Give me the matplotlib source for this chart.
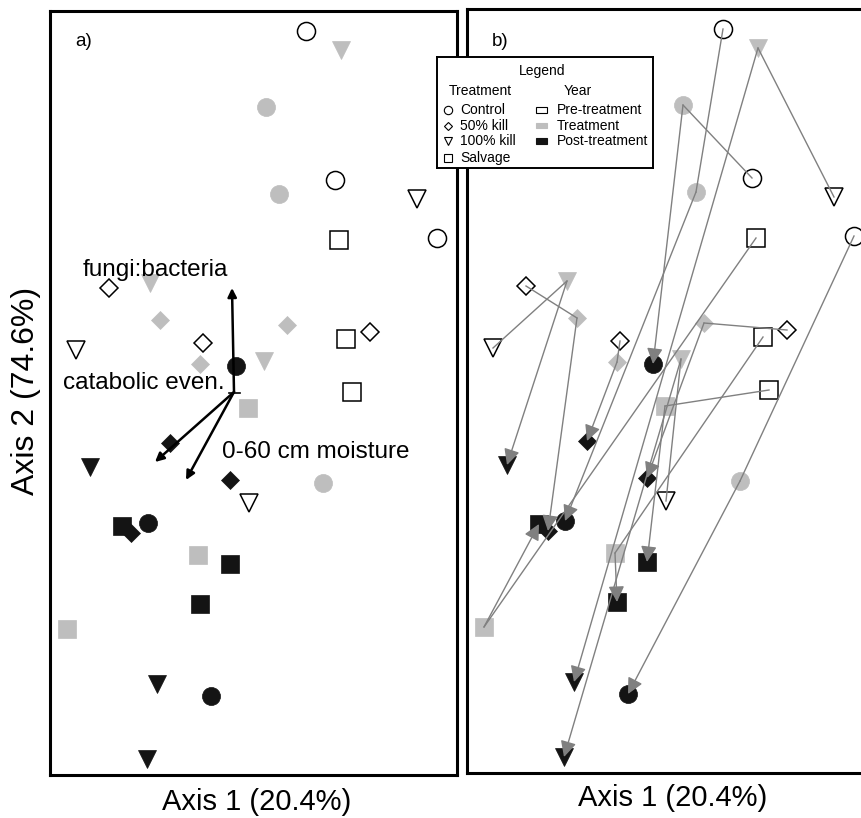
import matplotlib
matplotlib.use('Agg')
import matplotlib.pyplot as plt
from matplotlib.patches import Rectangle

plt.rcParams['font.family'] = ['Liberation Sans', 'DejaVu Sans']

# NMS scores: rows = year (pre, treatment, post), columns = plot (replicate)
control_x = [[0.28, 0.425, 0.935], [0.145, 0.08, 0.365], [-0.51, -0.07, -0.195]]
control_y = [[1.845, 1.10, 0.81], [1.03, 1.465, -0.415], [-0.615, 0.17, -1.48]]

kill50_x = [[-0.705, 0.60, -0.235], [-0.45, 0.185, -0.25], [-0.595, -0.10, -0.40]]
kill50_y = [[0.56, 0.34, 0.285], [0.40, 0.375, 0.18], [-0.665, -0.40, -0.215]]

kill100_x = [[0.835, -0.87, -0.005], [0.455, -0.50, 0.07], [-0.465, -0.80, -0.515]]
kill100_y = [[1.005, 0.25, -0.515], [1.75, 0.585, 0.195], [-1.42, -0.335, -1.795]]

salvage_x = [[0.445, 0.48, 0.51], [-0.915, -0.26, -0.01], [-0.64, -0.25, -0.10]]
salvage_y = [[0.80, 0.305, 0.04], [-1.145, -0.775, -0.04], [-0.63, -1.02, -0.82]]

treatments = ['Control', '50% kill', '100% kill', 'Salvage']
years = ['Pre-treatment', 'Treatment', 'Post-treatment']

# Environmental vectors (biplot), from a common origin
vec_origin = (-0.08, 0.04)
vec_x = [-0.09, -0.475, -0.32]
vec_y = [0.56, -0.31, -0.40]

scores = {
    'Control': (control_x, control_y),
    '50% kill': (kill50_x, kill50_y),
    '100% kill': (kill100_x, kill100_y),
    'Salvage': (salvage_x, salvage_y),
}
markers = {'Control': 'o', '50% kill': 'D', '100% kill': 'v', 'Salvage': 's'}
msizes = {'Control': 13, '50% kill': 9.5, '100% kill': 13, 'Salvage': 12.7}
year_colors = [None, '#bebebe', '#141414']
arrow_gray = '#808080'

W, H = 862, 818
fig = plt.figure(figsize=(W / 100, H / 100), dpi=100)


def px_box(left, top, right, bottom):
    return [left / W, 1 - bottom / H, (right - left) / W, (bottom - top) / H]


def draw_points(ax):
    for t in treatments:
        xs, ys = scores[t]
        for yi in range(3):
            if year_colors[yi] is None:
                ax.plot(xs[yi], ys[yi], ls='none', marker=markers[t],
                        ms=msizes[t], mfc='none', mec='k', mew=1.1, zorder=2)
            else:
                ax.plot(xs[yi], ys[yi], ls='none', marker=markers[t],
                        ms=msizes[t], mfc=year_colors[yi],
                        mec=year_colors[yi], mew=0.5, zorder=2)


def setup(ax):
    ax.set_xlim(-1.0, 1.035)
    ax.set_ylim(-1.875, 1.945)
    ax.set_xticks([])
    ax.set_yticks([])
    for s in ax.spines.values():
        s.set_linewidth(2.2)


# Panel a: ordination with biplot vectors
ax1 = fig.add_axes(px_box(50, 11, 457, 775))
setup(ax1)
draw_points(ax1)
for vx, vy in zip(vec_x, vec_y):
    ax1.annotate('', xy=(vx, vy), xytext=vec_origin,
                 arrowprops=dict(arrowstyle='-|>', color='k', lw=1.8,
                                 mutation_scale=13, shrinkA=0, shrinkB=0),
                 zorder=4)
# near zero-length vector (catabolic evenness)
ax1.plot([vec_origin[0] - 0.025, vec_origin[0] + 0.03],
         [vec_origin[1] - 0.005, vec_origin[1] - 0.005], color='k', lw=1.2, zorder=4)
ax1.text(-0.835, 0.65, 'fungi:bacteria', fontsize=17.5, va='center', zorder=5)
ax1.text(-0.935, 0.085, 'catabolic even.', fontsize=17.5, va='center', zorder=5)
ax1.text(-0.14, -0.26, '0-60 cm moisture', fontsize=17.5, va='center', zorder=5)
fig.text(75 / W, 1 - 42 / H, 'a)', fontsize=13.5, va='center')

# Panel b: trajectories pre -> treatment -> post
ax2 = fig.add_axes(px_box(467, 9, 874, 773))
setup(ax2)
draw_points(ax2)
for t in treatments:
    xs, ys = scores[t]
    for r in range(3):
        ax2.plot([xs[0][r], xs[1][r]], [ys[0][r], ys[1][r]],
                 color=arrow_gray, lw=1.0, zorder=3)
        ax2.annotate('', xy=(xs[2][r], ys[2][r]), xytext=(xs[1][r], ys[1][r]),
                     arrowprops=dict(arrowstyle='-|>', color=arrow_gray, lw=1.0,
                                     mutation_scale=24, shrinkA=0, shrinkB=0),
                     zorder=4)
fig.text(492 / W, 1 - 42 / H, 'b)', fontsize=13.5, va='center')

# Axis titles
fig.text(257 / W, 1 - 802 / H, 'Axis 1 (20.4%)', fontsize=21, ha='center', va='center')
fig.text(673 / W, 1 - 798 / H, 'Axis 1 (20.4%)', fontsize=21, ha='center', va='center')
fig.text(26 / W, 1 - 391 / H, 'Axis 2 (74.6%)', fontsize=23, ha='center',
         va='center', rotation=90)

# Legend box over both panels
leg = fig.add_axes(px_box(437, 57, 653, 168), zorder=10)
leg.set_xlim(0, 216)
leg.set_ylim(111, 0)
leg.set_xticks([])
leg.set_yticks([])
leg.patch.set_facecolor('white')
for s in leg.spines.values():
    s.set_linewidth(1.4)
leg.text(105, 14, 'Legend', fontsize=10, ha='center', va='center')
leg.text(43, 34, 'Treatment', fontsize=10, ha='center', va='center')
leg.text(141, 34, 'Year', fontsize=10, ha='center', va='center')
rows = [53, 68.7, 84, 100.7]
leg_ms = {'Control': 6, '50% kill': 4.5, '100% kill': 6, 'Salvage': 6}
for t, ry in zip(treatments, rows):
    leg.plot(11, ry, marker=markers[t], ms=leg_ms[t], mfc='none', mec='k', mew=0.8)
    leg.text(23.5, ry, t, fontsize=10, va='center')
for yi, (name, ry) in enumerate(zip(years, rows)):
    fc = 'white' if year_colors[yi] is None else year_colors[yi]
    ec = 'k' if year_colors[yi] is None else year_colors[yi]
    leg.add_patch(Rectangle((99, ry - 2.8), 11.5, 5.6, fc=fc, ec=ec, lw=0.8))
    leg.text(119.5, ry, name, fontsize=10, va='center')

fig.savefig('out.png', dpi=100)
